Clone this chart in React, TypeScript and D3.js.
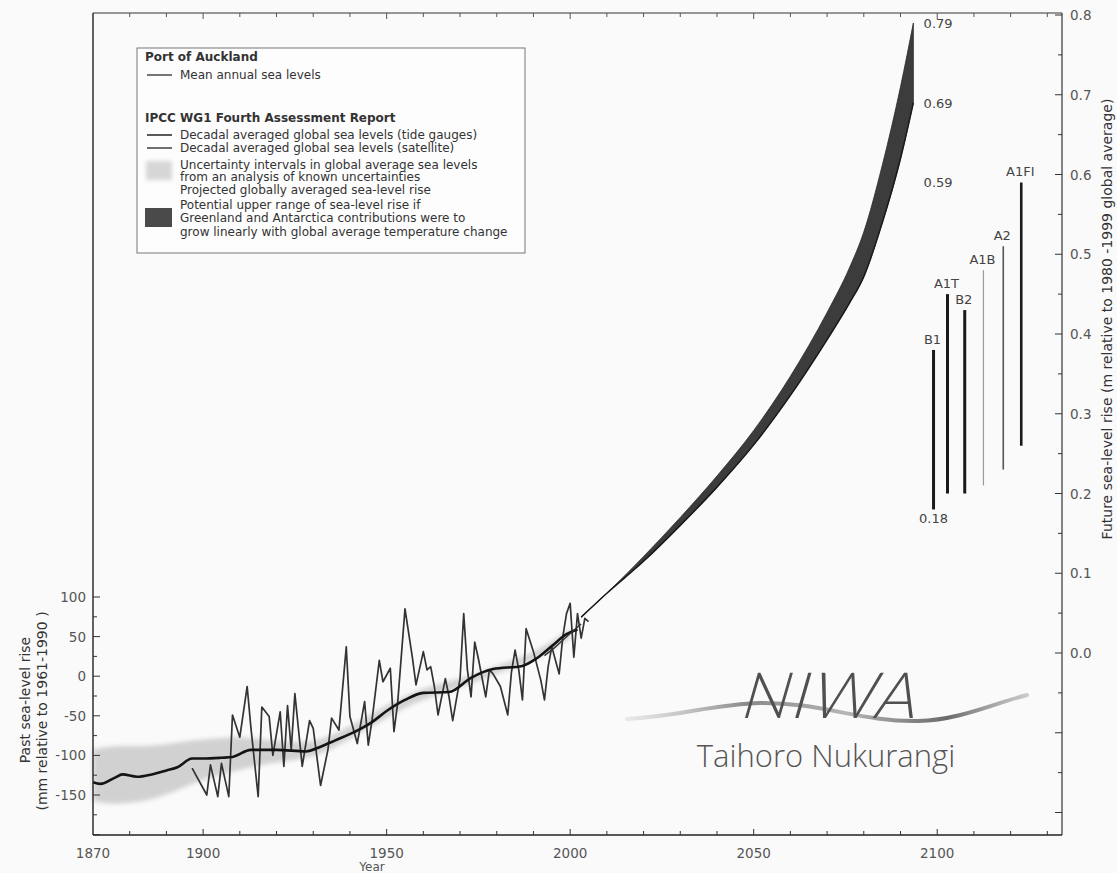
import React from "react";
import * as d3 from "d3";

// ---------- DATA ----------
// Port of Auckland mean annual sea levels (mm, relative to 1961-1990)
const auckYears = [1897,1901,1902,1904,1905,1907,1908,1910,1912,1913,1915,1916,1918,1919,1921,1922,1923,1924,1925,1927,1929,1930,1932,1934,1935,1937,1939,1940,1942,1944,1945,1946,1948,1949,1951,1952,1953,1955,1957,1958,1960,1961,1962,1963,1964,1966,1967,1968,1970,1971,1972,1973,1974,1975,1977,1978,1979,1981,1983,1984,1985,1986,1987,1988,1990,1992,1993,1994,1995,1997,1998,1999,2000,2001,2002,2003,2004,2005];
const auckValues = [-116,-150,-112,-152,-110,-152,-49,-77,-13,-64,-152,-39,-51,-100,-45,-114,-37,-93,-22,-114,-56,-66,-138,-93,-53,-68,37,-51,-85,-32,-87,-56,20,-7,10,-70,-34,85,24,-11,31,8,12,-13,-49,-3,-26,-56,-3,79,8,-26,43,22,-26,8,3,-13,-49,5,33,8,-30,60,31,-5,-30,12,37,3,50,79,92,24,79,48,73,69];

// IPCC decadal averaged global sea level (tide gauges), mm
const tgYears = [1870,1872,1876,1878,1882,1886,1890,1893,1897,1900,1905,1908,1913,1920,1928,1932,1936,1941,1946,1950,1955,1960,1967,1973,1979,1987,1991,1995,1999,2002];
const tgValues = [-134,-136,-128,-124,-127,-124,-119,-115,-104,-104,-103,-102,-93,-93,-95,-89,-81,-71,-58,-44,-30,-21,-20,-2,9,13,23,38,53,59];

// satellite decadal average, mm
const satYears = [1993, 1996, 2000, 2003];
const satValues = [26, 37, 54, 66];

// uncertainty interval, mm
const uncYears = [1870,1875,1880,1885,1890,1895,1900,1905,1910,1920,1930,1940,1950,1960,1970,1980,1990,2000];
const uncHigh = [-92,-88,-88,-88,-86,-82,-80,-78,-76,-82,-86,-64,-36,-14,-4,14,28,60];
const uncLow = [-158,-162,-160,-157,-150,-140,-130,-124,-118,-108,-104,-80,-52,-28,-16,4,18,48];

// projection (m relative to 1980-1999) with potential upper range
const projYears = [2003,2010,2020,2030,2040,2050,2060,2070,2076,2080,2085,2090,2093.5];
const projLow = [0.045,0.075,0.115,0.16,0.208,0.261,0.323,0.393,0.438,0.472,0.539,0.62,0.69];
const projHigh = [0.045,0.075,0.121,0.17,0.222,0.279,0.347,0.427,0.482,0.528,0.611,0.71,0.79];
const markedLevels = ["0.79", "0.69", "0.59"];

// SRES scenario ranges for 2090-2099 (m)
const scenNames = ["B1", "A1T", "B2", "A1B", "A2", "A1FI"];
const scenYear = [2099, 2102.8, 2107.5, 2112.6, 2118, 2122.9];
const scenLow = [0.18, 0.2, 0.2, 0.21, 0.23, 0.26];
const scenHigh = [0.38, 0.45, 0.43, 0.48, 0.51, 0.59];
const lowestLabel = "0.18";

// axes
const xTickLabels = [1870, 1900, 1950, 2000, 2050, 2100];
const leftTickLabels = [-150, -100, -50, 0, 50, 100];
const rightTickLabels = [0, 0.1, 0.2, 0.3, 0.4, 0.5, 0.6, 0.7, 0.8];

// ---------- STYLE ----------
const FONT = "'DejaVu Sans', 'Liberation Sans', Arial, sans-serif";
const scenStroke = ["#1a1a1a", "#1a1a1a", "#1a1a1a", "#9a9a9a", "#555", "#1a1a1a"];
const scenWidth = [3, 3, 3, 1.2, 1.6, 2.6];

export default function App() {
  const x = d3.scaleLinear().domain([1870, 2134]).range([93, 1062]);
  const yL = d3.scaleLinear().domain([-150, 100]).range([795, 597]);
  const yR = d3.scaleLinear().domain([0, 0.8]).range([653, 15]);
  const top = 13;
  const bottom = 835;
  const left = x(1870);
  const right = x(2134);

  const idx = (a: number[]) => a.map((_, i) => i);

  const auckLine = d3
    .line<number>()
    .x((i) => x(auckYears[i]))
    .y((i) => yL(auckValues[i]));
  const tgLine = d3
    .line<number>()
    .x((i) => x(tgYears[i]))
    .y((i) => yL(tgValues[i]))
    .curve(d3.curveMonotoneX);
  const satLine = d3
    .line<number>()
    .x((i) => x(satYears[i]))
    .y((i) => yL(satValues[i]))
    .curve(d3.curveMonotoneX);
  const uncArea = d3
    .area<number>()
    .x((i) => x(uncYears[i]))
    .y0((i) => yL(uncLow[i]))
    .y1((i) => yL(uncHigh[i]))
    .curve(d3.curveBasis);
  const projArea = d3
    .area<number>()
    .x((i) => x(projYears[i]))
    .y0((i) => yR(projLow[i]))
    .y1((i) => yR(projHigh[i]))
    .curve(d3.curveMonotoneX);
  const projLine = d3
    .line<number>()
    .x((i) => x(projYears[i]))
    .y((i) => yR(projLow[i]))
    .curve(d3.curveMonotoneX);

  const decadeTicks = d3.range(1880, 2131, 10);
  const leftTicks = d3.range(-200, 101, 25);
  const rightTicks = d3.range(-4, 17, 1).map((k) => k * 0.05);

  // legend layout
  const lx = 137;
  const ly = 48;
  const lw = 388;
  const lh = 205;
  const tx = 180;

  return (
    <div style={{ position: "absolute", left: 0, top: 0 }}>
      <svg width={1117} height={873} style={{ display: "block" }} fontFamily={FONT}>
        <defs>
          <filter id="soft" x="-10%" y="-30%" width="120%" height="160%">
            <feGaussianBlur stdDeviation="2.2" />
          </filter>
          <linearGradient id="swoosh" x1="0" x2="1" y1="0" y2="0">
            <stop offset="0" stopColor="#bdbdbd" stopOpacity="0.3" />
            <stop offset="0.3" stopColor="#8a8a8a" />
            <stop offset="0.55" stopColor="#b5b5b5" />
            <stop offset="0.8" stopColor="#6a6a6a" />
            <stop offset="1" stopColor="#9a9a9a" stopOpacity="0.5" />
          </linearGradient>
        </defs>
        <rect x={0} y={0} width={1117} height={873} fill="#fafafa" />

        {/* uncertainty band */}
        <path d={uncArea(idx(uncYears)) || ""} fill="#cbcbcb" opacity={0.85} filter="url(#soft)" />

        {/* annual Auckland */}
        <path d={auckLine(idx(auckYears)) || ""} fill="none" stroke="#333" strokeWidth={1.7} strokeLinejoin="round" />
        {/* tide gauge decadal */}
        <path d={tgLine(idx(tgYears)) || ""} fill="none" stroke="#141414" strokeWidth={2.6} />
        {/* satellite */}
        <path d={satLine(idx(satYears)) || ""} fill="none" stroke="#333" strokeWidth={1.4} />

        {/* projection */}
        <path d={projArea(idx(projYears)) || ""} fill="#3c3c3c" stroke="#2a2a2a" strokeWidth={0.8} />
        <path d={projLine(idx(projYears)) || ""} fill="none" stroke="#1a1a1a" strokeWidth={1.5} />

        {/* marked levels */}
        {markedLevels.map((v) => (
          <text key={v} x={x(2096.3)} y={yR(+v) + 5} fontSize={13} fill="#444">
            {v}
          </text>
        ))}

        {/* scenario bars */}
        {scenNames.map((n, i) => (
          <g key={n}>
            <line
              x1={x(scenYear[i])}
              x2={x(scenYear[i])}
              y1={yR(scenLow[i])}
              y2={yR(scenHigh[i])}
              stroke={scenStroke[i]}
              strokeWidth={scenWidth[i]}
            />
            <text x={x(scenYear[i]) - 1} y={yR(scenHigh[i]) - 6} fontSize={13} fill="#444" textAnchor="middle">
              {n}
            </text>
          </g>
        ))}
        <text x={x(scenYear[0])} y={yR(scenLow[0]) + 14} fontSize={13} fill="#444" textAnchor="middle">
          {lowestLabel}
        </text>

        {/* frame */}
        <line x1={left} x2={right} y1={top} y2={top} stroke="#333" strokeWidth={1.2} />
        <line x1={left} x2={left} y1={top} y2={bottom} stroke="#222" strokeWidth={1.4} />
        <line x1={right} x2={right} y1={top} y2={bottom} stroke="#333" strokeWidth={1.2} />
        <line x1={left} x2={right} y1={bottom} y2={bottom} stroke="#222" strokeWidth={1.6} />

        {/* bottom ticks + top ticks */}
        {decadeTicks.map((t) => (
          <g key={t}>
            <line x1={x(t)} x2={x(t)} y1={bottom} y2={bottom - (t % 50 === 0 ? 6 : 4)} stroke="#333" strokeWidth={1} />
            <line x1={x(t)} x2={x(t)} y1={top} y2={top + (t % 50 === 0 ? 6 : 4)} stroke="#555" strokeWidth={1} />
          </g>
        ))}
        {xTickLabels.map((t) => (
          <text key={t} x={x(t)} y={858} fontSize={13.5} fill="#555" textAnchor="middle">
            {t}
          </text>
        ))}
        <text x={372} y={871} fontSize={12} fill="#555" textAnchor="middle">
          Year
        </text>

        {/* left ticks */}
        {leftTicks.map((t) => (
          <line key={t} x1={left} x2={left + (t % 50 === 0 ? 7 : 4)} y1={yL(t)} y2={yL(t)} stroke="#333" strokeWidth={1} />
        ))}
        {leftTickLabels.map((t) => (
          <text key={t} x={86} y={yL(t) + 5} fontSize={13.5} fill="#555" textAnchor="end">
            {t}
          </text>
        ))}
        <text transform={`translate(30,700) rotate(-90)`} fontSize={14} fill="#333" textAnchor="middle">
          Past sea-level rise
        </text>
        <text transform={`translate(47,711) rotate(-90)`} fontSize={14} fill="#333" textAnchor="middle">
          (mm relative to 1961-1990 )
        </text>

        {/* right ticks */}
        {rightTicks.map((t, i) => (
          <line
            key={i}
            x1={right}
            x2={right - (i % 2 === 0 ? 7 : 4)}
            y1={yR(t)}
            y2={yR(t)}
            stroke="#333"
            strokeWidth={1}
          />
        ))}
        {rightTickLabels.map((t) => (
          <text key={t} x={1070} y={yR(t) + 5} fontSize={13.5} fill="#555">
            {t.toFixed(1)}
          </text>
        ))}
        <text transform={`translate(1112,319) rotate(-90)`} fontSize={14} fill="#333" textAnchor="middle">
          Future sea-level rise (m relative to 1980 -1999 global average)
        </text>

        {/* legend */}
        <rect x={lx} y={ly} width={lw} height={lh} fill="#fdfdfd" stroke="#777" strokeWidth={1} />
        <g fontSize={12} fill="#333">
          <text x={145} y={61} fontWeight="bold">Port of Auckland</text>
          <line x1={147} x2={172} y1={75} y2={75} stroke="#3a3a3a" strokeWidth={1.4} />
          <text x={tx} y={79}>Mean annual sea levels</text>

          <text x={145} y={122} fontWeight="bold">IPCC WG1 Fourth Assessment Report</text>
          <line x1={147} x2={172} y1={135} y2={135} stroke="#141414" strokeWidth={1.4} />
          <text x={tx} y={139}>Decadal averaged global sea levels (tide gauges)</text>
          <line x1={147} x2={172} y1={148} y2={148} stroke="#333" strokeWidth={1.4} />
          <text x={tx} y={152}>Decadal averaged global sea levels (satellite)</text>

          <rect x={146} y={161} width={26} height={19} fill="#d6d6d6" filter="url(#soft)" />
          <text x={tx} y={169}>Uncertainty intervals in global average sea levels</text>
          <text x={tx} y={181}>from an analysis of known uncertainties</text>
          <text x={tx} y={194}>Projected globally averaged sea-level rise</text>

          <rect x={145} y={208} width={27} height={19} fill="#4a4a4a" />
          <text x={tx} y={209}>Potential upper range of sea-level rise if</text>
          <text x={tx} y={222}>Greenland and Antarctica contributions were to</text>
          <text x={tx} y={236}>grow linearly with global average temperature change</text>
        </g>

        {/* NIWA logo */}
        <path
          d="M627,719 C680,716 715,704 760,703 C820,702 860,722 918,721 C960,720 995,703 1027,695"
          fill="none"
          stroke="url(#swoosh)"
          strokeWidth={4}
          strokeLinecap="round"
        />
        <g transform="translate(827,718) skewX(-16)">
          <text
            x={0}
            y={0}
            fontSize={64}
            fontWeight={300}
            fill="#505050"
            textAnchor="middle"
            fontFamily="'Lato', 'Open Sans', sans-serif"
            letterSpacing={2}
          >
            NIWA
          </text>
        </g>
        <text
          x={826}
          y={767}
          fontSize={31}
          fontWeight={300}
          fill="#555"
          textAnchor="middle"
          fontFamily="'Open Sans', 'Lato', sans-serif"
        >
          Taihoro Nukurangi
        </text>
      </svg>
    </div>
  );
}
